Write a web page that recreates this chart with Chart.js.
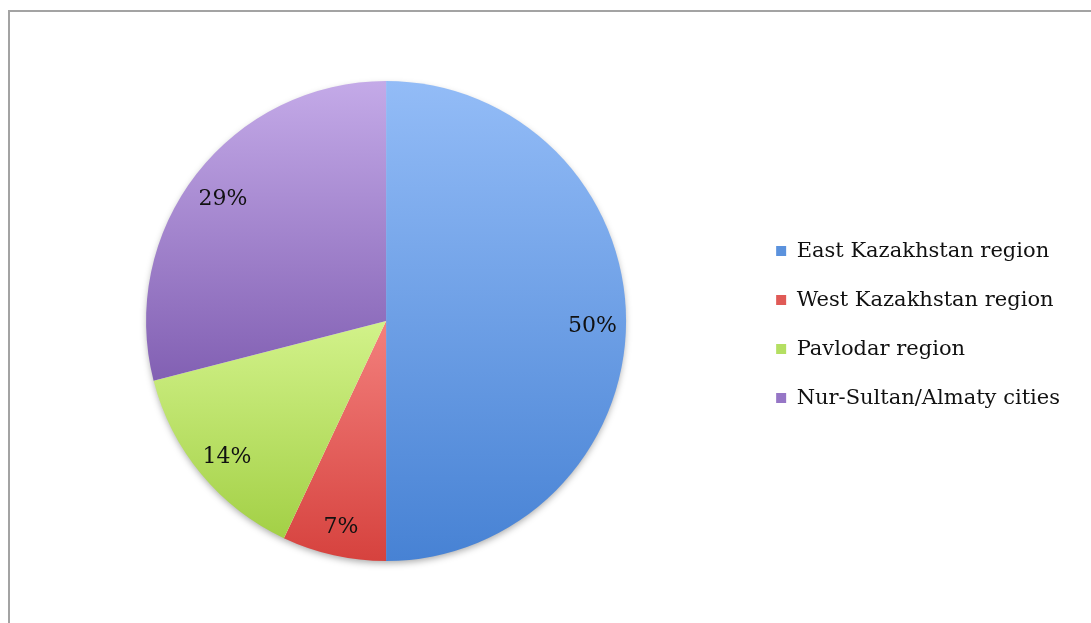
<!DOCTYPE html>
<html>
<head>
<meta charset="utf-8">
<script src="https://cdn.jsdelivr.net/npm/chart.js@4/dist/chart.umd.min.js"></script>
<style>
  html, body { margin: 0; padding: 0; background: #fff; overflow: hidden; }
  #frame { position: absolute; left: 8px; top: 10px; width: 1100px; height: 700px; border: 2px solid #a3a3a3; }
  #wrap { position: absolute; left: 10px; top: 12px; width: 1081px; height: 611px; }
</style>
</head>
<body>
<div id="frame"></div>
<div id="wrap"><canvas id="myChart"></canvas></div>
<script>
var regions = ['East Kazakhstan region', 'West Kazakhstan region', 'Pavlodar region', 'Nur-Sultan/Almaty cities'];
var shares = [50, 7, 14, 29];

var lightColors = ['#93bcf7', '#f3807d', '#d2f28a', '#c4aae8'];
var darkColors = ['#4782d4', '#d6423e', '#a3d046', '#8260b3'];
var legendColors = ['#5b92dd', '#e05a56', '#b4df62', '#9676c6'];

var serif = '"DejaVu Serif", "Liberation Serif", serif';

function sliceGeometry(chart, i) {
    var area = chart.chartArea;
    var total = shares.reduce(function (a, b) { return a + b; }, 0);
    var before = 0;
    for (var k = 0; k < i; k++) before += shares[k];
    var a0 = -Math.PI / 2 + before / total * Math.PI * 2;
    var a1 = a0 + shares[i] / total * Math.PI * 2;
    var cx = (area.left + area.right) / 2;
    var cy = (area.top + area.bottom) / 2;
    var r = Math.min(area.width, area.height) / 2;
    var ys = [cy, cy + r * Math.sin(a0), cy + r * Math.sin(a1)];
    [Math.PI / 2, -Math.PI / 2, Math.PI * 1.5].forEach(function (a) {
        if (a > a0 && a < a1) ys.push(cy + r * Math.sin(a));
    });
    return { top: Math.min.apply(null, ys), bottom: Math.max.apply(null, ys), cx: cx, cy: cy, r: r };
}

function sliceFill(context) {
    var chart = context.chart;
    var i = context.dataIndex;
    if (!chart.chartArea || i === undefined) return legendColors[i] || '#999';
    var g = sliceGeometry(chart, i);
    var grad = chart.ctx.createLinearGradient(0, g.top, 0, g.bottom);
    grad.addColorStop(0, lightColors[i]);
    grad.addColorStop(1, darkColors[i]);
    return grad;
}

// soft shadow under the pie
var pieShadow = {
    id: 'pieShadow',
    beforeDatasetsDraw: function (chart) {
        var g = sliceGeometry(chart, 0);
        var c = chart.ctx;
        c.save();
        c.shadowColor = 'rgba(0, 0, 0, 0.35)';
        c.shadowBlur = 7;
        c.shadowOffsetY = 3;
        c.fillStyle = '#ffffff';
        c.beginPath();
        c.arc(g.cx, g.cy, g.r - 1, 0, Math.PI * 2);
        c.fill();
        c.restore();
    }
};

// percentage labels inside the slices
var sliceLabels = {
    id: 'sliceLabels',
    afterDatasetsDraw: function (chart) {
        var c = chart.ctx;
        var meta = chart.getDatasetMeta(0);
        var total = shares.reduce(function (a, b) { return a + b; }, 0);
        c.save();
        c.font = '22px ' + serif;
        c.fillStyle = '#111111';
        c.textAlign = 'center';
        c.textBaseline = 'middle';
        meta.data.forEach(function (arc, i) {
            var p = arc.getProps(['x', 'y', 'startAngle', 'endAngle', 'outerRadius']);
            var mid = (p.startAngle + p.endAngle) / 2;
            var d = p.outerRadius * 0.86;
            c.fillText(Math.round(shares[i] / total * 100) + '%', p.x + Math.cos(mid) * d, p.y + Math.sin(mid) * d + 5);
        });
        c.restore();
    }
};

window.onload = function () {
    var ctx = document.getElementById('myChart').getContext('2d');

    new Chart(ctx, {
        type: 'pie',
        data: {
            labels: regions,
            datasets: [{
                data: shares,
                backgroundColor: sliceFill,
                borderWidth: 0
            }]
        },
        options: {
            responsive: true,
            maintainAspectRatio: false,
            animation: false,
            layout: {
                padding: { left: 14, right: 21, top: 69, bottom: 62 }
            },
            plugins: {
                tooltip: { enabled: false },
                legend: {
                    position: 'right',
                    title: {
                        display: true,
                        text: ' ',
                        font: { size: 1 },
                        padding: 3
                    },
                    labels: {
                        boxWidth: 10,
                        boxHeight: 10,
                        padding: 28,
                        color: '#111111',
                        font: { family: serif, size: 21 },
                        generateLabels: function (chart) {
                            return regions.map(function (name, i) {
                                return {
                                    text: name,
                                    fillStyle: legendColors[i],
                                    strokeStyle: legendColors[i],
                                    fontColor: '#111111',
                                    lineWidth: 0,
                                    hidden: false,
                                    index: i
                                };
                            });
                        }
                    }
                }
            }
        },
        plugins: [pieShadow, sliceLabels]
    });
};
</script>
</body>
</html>
